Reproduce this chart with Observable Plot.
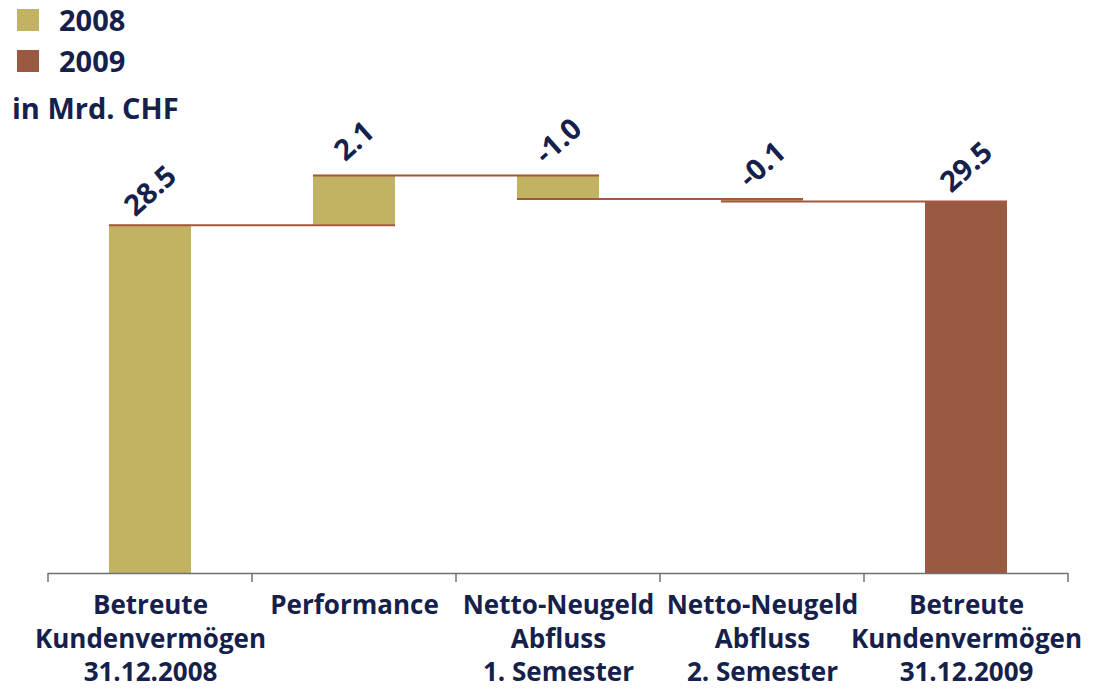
<!DOCTYPE html>
<html><head><meta charset="utf-8">
<script src="https://cdn.jsdelivr.net/npm/d3@7"></script>
<script src="https://cdn.jsdelivr.net/npm/@observablehq/plot@0.6"></script>
<style>
body{margin:0;background:#fff;font-family:"Open Sans",sans-serif;}
#wrap{position:relative;width:1093px;height:689px;overflow:hidden;}
#legend{position:absolute;left:0;top:-1px;color:#15204b;font-weight:700;font-size:29px;z-index:2;}
.lrow{display:flex;align-items:center;height:41px;}
.sw{width:22px;height:22px;margin-left:17px;margin-right:20px;}
.unit{margin-left:12px;margin-top:6px;height:41px;display:flex;align-items:center;}
#chart{position:absolute;left:0;top:0;}
</style></head><body>
<div id="wrap"><div id="legend"></div><div id="chart"></div></div>
<script>
const categories = [
  "Betreute\nKundenvermögen\n31.12.2008",
  "Performance",
  "Netto-Neugeld\nAbfluss\n1. Semester",
  "Netto-Neugeld\nAbfluss\n2. Semester",
  "Betreute\nKundenvermögen\n31.12.2009"
];
const values = [28.5, 2.1, -1.0, -0.1, 29.5];
const kinds = ["total", "delta", "delta", "delta", "total"];
const years = ["2008", "2008", "2008", "2008", "2009"];
const valueLabels = ["28.5", "2.1", "-1.0", "-0.1", "29.5"];
const legendYears = ["2008", "2009"];
const legendColors = ["#c2b264", "#9a5a42"];
const unitLabel = "in Mrd. CHF";
const yBase = 13.8, yTop = 35.45;

const navy = "#15204b";

// legend
const legend = document.getElementById("legend");
legendYears.forEach((y, i) => {
  const r = document.createElement("div"); r.className = "lrow";
  const s = document.createElement("div"); s.className = "sw"; s.style.background = legendColors[i];
  const t = document.createElement("span"); t.textContent = y;
  r.appendChild(s); r.appendChild(t); legend.appendChild(r);
});
const u = document.createElement("div"); u.className = "unit"; u.textContent = unitLabel; legend.appendChild(u);

// waterfall rows
let run = 0;
const rows = categories.map((c, i) => {
  let lo, hi, end;
  if (kinds[i] === "total") { lo = yBase; hi = values[i]; end = values[i]; }
  else { const s = run; end = run + values[i]; lo = Math.min(s, end); hi = Math.max(s, end); }
  run = end;
  return {cat: c, lo, hi, end, year: years[i], label: valueLabels[i]};
});
const connectors = rows.slice(0, -1).map((r, i) => ({x1: r.cat, x2: categories[i + 1], y: r.end}));

function boundaryTicks(index, scales) {
  const x = scales.x, y = scales.y;
  const bw = x.bandwidth ? x.bandwidth() : 0;
  const step = x(categories[1]) - x(categories[0]);
  const gap = step - bw;
  const pos = categories.map(c => x(c) - gap / 2);
  pos.push(x(categories[categories.length - 1]) + bw + gap / 2);
  const y0 = y(yBase);
  const g = d3.create("svg:g");
  g.selectAll("line").data(pos).join("line")
    .attr("x1", d => d).attr("x2", d => d)
    .attr("y1", y0).attr("y2", y0 + 9)
    .attr("stroke", "#707070").attr("stroke-width", 1.5);
  return g.node();
}

const chart = Plot.plot({
  width: 1093, height: 689,
  marginLeft: 48, marginRight: 25, marginTop: 60, marginBottom: 116,
  style: {fontFamily: "Open Sans", fontWeight: 700, color: navy, background: "transparent", overflow: "visible"},
  x: {type: "band", domain: categories, paddingInner: 0.6, paddingOuter: 0.3, align: 0.5},
  y: {domain: [yBase, yTop], axis: null},
  color: {domain: legendYears, range: legendColors},
  marks: [
    Plot.barY(rows, {x: "cat", y1: "lo", y2: "hi", fill: "year"}),
    Plot.ruleY(connectors, {x1: "x1", x2: "x2", y: "y", stroke: "#a5573d", strokeWidth: 2}),
    Plot.ruleY([yBase], {stroke: "#707070", strokeWidth: 1.5}),
    boundaryTicks,
    Plot.text(rows, {x: "cat", y: "hi", text: "label", rotate: -42, dy: -34, fontSize: 29, fill: navy, fontWeight: 700, textAnchor: "middle", style: "letter-spacing:2px"}),
    Plot.axisX({tickSize: 0, tickPadding: 17, fontSize: 26, lineHeight: 1.29, fill: navy, fontWeight: 700, label: null, lineAnchor: "top"})
  ]
});
document.getElementById("chart").appendChild(chart);
</script>
</body></html>
